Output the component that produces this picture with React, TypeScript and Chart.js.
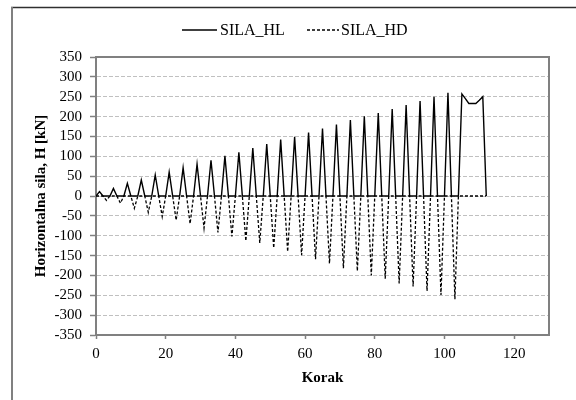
import React, { useEffect, useRef } from "react";
import { Chart, registerables } from "chart.js";

Chart.register(...registerables);

// ---- data ----
const korak = [
  0, 1, 2, 3, 4, 5, 6, 7, 8, 9, 10, 11, 12, 13, 14, 15, 16, 17, 18, 19,
  20, 21, 22, 23, 24, 25, 26, 27, 28, 29, 30, 31, 32, 33, 34, 35, 36, 37, 38, 39,
  40, 41, 42, 43, 44, 45, 46, 47, 48, 49, 50, 51, 52, 53, 54, 55, 56, 57, 58, 59,
  60, 61, 62, 63, 64, 65, 66, 67, 68, 69, 70, 71, 72, 73, 74, 75, 76, 77, 78, 79,
  80, 81, 82, 83, 84, 85, 86, 87, 88, 89, 90, 91, 92, 93, 94, 95, 96, 97, 98, 99,
  100, 101, 102, 103, 104, 105, 106, 107, 108, 109, 110, 111, 112,
];

const silaHL = [
  0, 11, 0, 0,
  0, 19, 0, 0,
  0, 32, 0, 0,
  0, 40, 0, 0,
  0, 53, 0, 0,
  0, 60, 0, 0,
  0, 71, 0, 0,
  0, 80, 0, 0,
  0, 90, 0, 0,
  0, 101, 0, 0,
  0, 110, 0, 0,
  0, 121, 0, 0,
  0, 131, 0, 0,
  0, 142, 0, 0,
  0, 149, 0, 0,
  0, 160, 0, 0,
  0, 170, 0, 0,
  0, 180, 0, 0,
  0, 191, 0, 0,
  0, 201, 0, 0,
  0, 209, 0, 0,
  0, 219, 0, 0,
  0, 229, 0, 0,
  0, 239, 0, 0,
  0, 250, 0, 0,
  0, 260, 0, 0,
  0, 257, 245, 233,
  233, 233, 241, 250,
  0,
];

const silaHD = [
  0, 0, 0, -11,
  0, 0, 0, -18,
  0, 0, 0, -31,
  0, 0, 0, -41,
  0, 0, 0, -52,
  0, 0, 0, -61,
  0, 0, 0, -70,
  0, 0, 0, -81,
  0, 0, 0, -92,
  0, 0, 0, -102,
  0, 0, 0, -113,
  0, 0, 0, -118,
  0, 0, 0, -131,
  0, 0, 0, -140,
  0, 0, 0, -149,
  0, 0, 0, -159,
  0, 0, 0, -170,
  0, 0, 0, -182,
  0, 0, 0, -189,
  0, 0, 0, -200,
  0, 0, 0, -208,
  0, 0, 0, -220,
  0, 0, 0, -228,
  0, 0, 0, -239,
  0, 0, 0, -249,
  0, 0, 0, -260,
  0, 0, 0, 0,
  0, 0, 0, 0,
  0,
];

const seriesNames = ["SILA_HL", "SILA_HD"];
const xAxisTitle = "Korak";
const yAxisTitle = "Horizontalna sila, H [kN]";
const xRange = [0, 130];
const xStep = 20;
const yRange = [-350, 350];
const yStep = 50;

const FONT = "'Liberation Serif', 'Times New Roman', serif";
const HD_DASH = [3, 2];

const decorPlugin = {
  id: "decor",
  beforeDraw(chart: any) {
    const ctx = chart.ctx;
    ctx.save();
    ctx.fillStyle = "#ffffff";
    ctx.fillRect(0, 0, chart.width, chart.height);
    // outer chart border
    ctx.strokeStyle = "#303030";
    ctx.lineWidth = 1.3;
    ctx.beginPath();
    ctx.moveTo(11, 7.5);
    ctx.lineTo(chart.width, 7.5);
    ctx.stroke();
    ctx.strokeStyle = "#808080";
    ctx.lineWidth = 2;
    ctx.beginPath();
    ctx.moveTo(12, 7);
    ctx.lineTo(12, chart.height);
    ctx.stroke();
    ctx.restore();
  },
  beforeDatasetsDraw(chart: any) {
    const { ctx, chartArea } = chart;
    ctx.save();
    ctx.strokeStyle = "#808080";
    ctx.lineWidth = 2;
    ctx.strokeRect(
      chartArea.left,
      chartArea.top,
      chartArea.right - chartArea.left,
      chartArea.bottom - chartArea.top
    );
    ctx.restore();
  },
  afterDraw(chart: any) {
    const ctx = chart.ctx;
    const y = 30;
    ctx.save();
    ctx.font = `16px ${FONT}`;
    ctx.fillStyle = "#000";
    ctx.textBaseline = "middle";
    ctx.textAlign = "left";
    ctx.strokeStyle = "#000";
    ctx.lineWidth = 1.3;
    // series 1
    ctx.setLineDash([]);
    ctx.beginPath();
    ctx.moveTo(182, y);
    ctx.lineTo(217, y);
    ctx.stroke();
    ctx.fillText(seriesNames[0], 220, y + 1);
    // series 2
    ctx.setLineDash(HD_DASH);
    ctx.beginPath();
    ctx.moveTo(307, y);
    ctx.lineTo(339, y);
    ctx.stroke();
    ctx.setLineDash([]);
    ctx.fillText(seriesNames[1], 341, y + 1);
    ctx.restore();
  },
};

export default function App() {
  const canvasRef = useRef<HTMLCanvasElement | null>(null);

  useEffect(() => {
    if (!canvasRef.current) return;
    const chart = new Chart(canvasRef.current, {
      type: "line",
      data: {
        datasets: [
          {
            label: seriesNames[0],
            data: korak.map((k, i) => ({ x: k, y: silaHL[i] })),
            borderColor: "#000000",
            borderWidth: 1.4,
            pointRadius: 0,
            tension: 0,
            fill: false,
          },
          {
            label: seriesNames[1],
            data: korak.map((k, i) => ({ x: k, y: silaHD[i] })),
            borderColor: "#000000",
            borderWidth: 1.3,
            borderDash: HD_DASH,
            pointRadius: 0,
            tension: 0,
            fill: false,
          },
        ],
      },
      options: {
        animation: false,
        responsive: false,
        maintainAspectRatio: false,
        layout: { padding: { left: 0, right: 27, top: 57, bottom: 0 } },
        plugins: {
          legend: { display: false },
          tooltip: { enabled: false },
        },
        scales: {
          x: {
            type: "linear",
            min: xRange[0],
            max: xRange[1],
            afterFit(scale: any) {
              scale.height = 65;
            },
            ticks: {
              stepSize: xStep,
              includeBounds: false,
              autoSkip: false,
              color: "#000",
              font: { family: FONT, size: 15 },
              padding: 6,
              maxRotation: 0,
            },
            grid: {
              drawOnChartArea: false,
              drawTicks: true,
              tickLength: 4,
              tickColor: "#808080",
              tickWidth: 1.5,
              tickBorderDash: [],
            },
            border: { display: true, color: "#808080", width: 2 },
            title: {
              display: true,
              text: xAxisTitle,
              color: "#000",
              font: { family: FONT, size: 15, weight: "bold" },
              padding: { top: 0, bottom: 13 },
            },
          },
          y: {
            type: "linear",
            min: yRange[0],
            max: yRange[1],
            afterFit(scale: any) {
              scale.width = 96;
            },
            ticks: {
              stepSize: yStep,
              autoSkip: false,
              color: "#000",
              font: { family: FONT, size: 15 },
              padding: 8,
            },
            grid: {
              color: "#c0c0c0",
              lineWidth: 1,
              drawTicks: true,
              tickLength: 6,
              tickColor: "#808080",
              tickWidth: 1.5,
              tickBorderDash: [],
            },
            border: { display: true, color: "#808080", width: 2, dash: [4, 2] },
            title: {
              display: true,
              text: yAxisTitle,
              color: "#000",
              font: { family: FONT, size: 15, weight: "bold" },
              padding: { top: 32, bottom: 0 },
            },
          },
        },
      },
      plugins: [decorPlugin],
    } as any);
    return () => chart.destroy();
  }, []);

  return (
    <div style={{ position: "fixed", left: 0, top: 0, width: 576, height: 400 }}>
      <canvas ref={canvasRef} width={576} height={400} style={{ display: "block" }} />
    </div>
  );
}
